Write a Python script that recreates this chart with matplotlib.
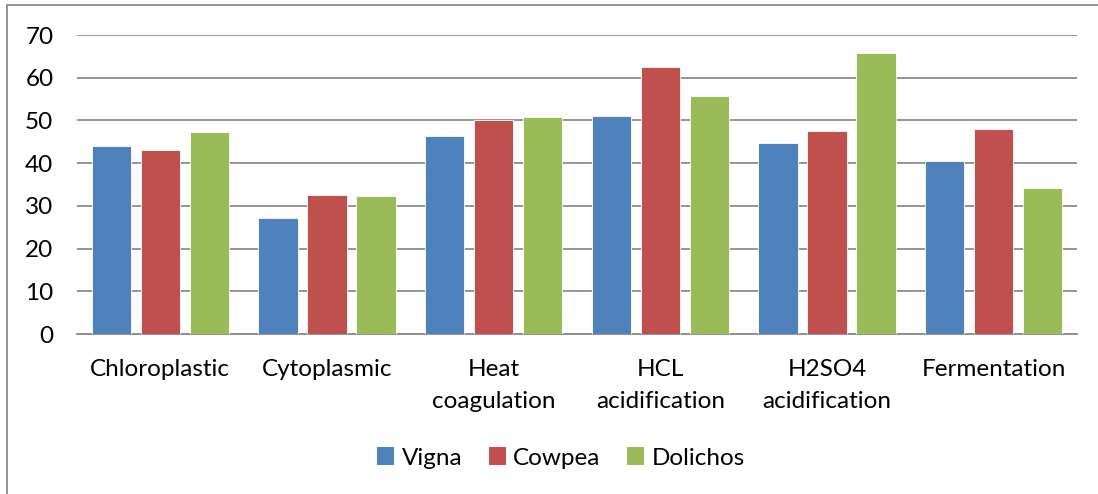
import numpy as np
import matplotlib.pyplot as plt
from matplotlib.patches import Rectangle, Patch

plt.rcParams['font.family'] = ['Lato', 'DejaVu Sans']

categories = ['Chloroplastic', 'Cytoplasmic', 'Heat\ncoagulation', 'HCL\nacidification',
              'H2SO4\nacidification', 'Fermentation']
vigna = [44.1, 27.1, 46.4, 51.1, 44.8, 40.4]
cowpea = [43.1, 32.6, 50.0, 62.6, 47.6, 47.9]
dolichos = [47.2, 32.2, 50.9, 55.7, 65.8, 34.2]

series = [('Vigna', vigna, '#4F81BD'),
          ('Cowpea', cowpea, '#C0504D'),
          ('Dolichos', dolichos, '#9BBB59')]

W, H = 1098, 494
fig = plt.figure(figsize=(W / 100, H / 100), dpi=100)
ax = fig.add_axes([77 / W, 1 - 334 / H, (1077 - 77) / W, (334 - 35) / H])

x = np.arange(len(categories))
width = 0.235
step = 0.294
for i, (name, vals, col) in enumerate(series):
    ax.bar(x + (i - 1) * step, vals, width, color=col, edgecolor='white',
           linewidth=0.6, label=name, zorder=3)

fs = 17.5
ax.set_xlim(-0.5, len(categories) - 0.5)
ax.set_ylim(0, 70)
ax.set_yticks(range(0, 71, 10))
ax.yaxis.grid(True, color='#8c8c8c', linewidth=1.3, zorder=0)
ax.set_axisbelow(True)
for side in ['top', 'right', 'left']:
    ax.spines[side].set_visible(False)
ax.spines['bottom'].set_color('#8c8c8c')
ax.spines['bottom'].set_linewidth(1.3)
ax.tick_params(axis='y', length=0, labelsize=fs, pad=17)
ax.tick_params(axis='x', length=0, labelsize=fs, pad=18)
ax.set_xticks(x)
ax.set_xticklabels(categories, linespacing=1.65)

handles = [Patch(facecolor=c, label=n) for n, _, c in series]
fig.legend(handles=handles, loc='center', bbox_to_anchor=(561 / W, 1 - 458 / H),
           ncol=3, frameon=False, fontsize=fs, handlelength=0.7, handleheight=0.7,
           handletextpad=0.3, columnspacing=1.1)

# chart frame
fig.patches.append(Rectangle((7 / W, -0.1), 1.2, 1 - 5 / H + 0.1, transform=fig.transFigure,
                             fill=False, edgecolor='#8c8c8c', linewidth=1.3))

fig.savefig('out.png', dpi=100)
